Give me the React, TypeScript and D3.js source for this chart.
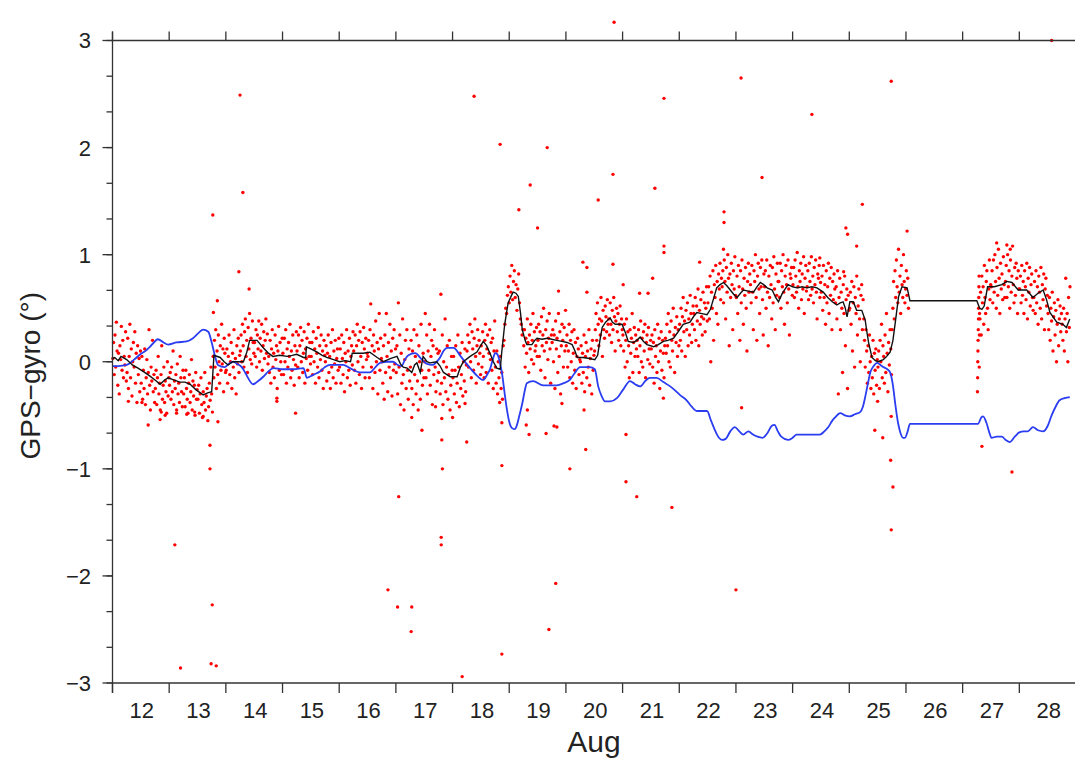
import React from "react";
import * as d3 from "d3";

// Time axis is day of August (fractional), y is GPS minus gyro heading in degrees.
const dayTicks = d3.range(12, 30);
const dayLabels = d3.range(12, 29);
const yMajor = [-3, -2, -1, 0, 1, 2, 3];
const yMinor = d3.range(-9, 10).map((k) => k / 3);

// Running mean of GPS−gyro [day, degrees]
const meanLine: [number, number][] = [
  [12.0, 0.03], [12.04, 0.04], [12.1, 0.01], [12.15, 0.05], [12.25, 0.02], [12.35, -0.03], [12.45, -0.06],
  [12.54, -0.09], [12.65, -0.13], [12.75, -0.17], [12.84, -0.21], [12.92, -0.17], [12.98, -0.15], [13.08, -0.17],
  [13.19, -0.19], [13.28, -0.19], [13.37, -0.21], [13.47, -0.26], [13.55, -0.29], [13.6, -0.31], [13.68, -0.29],
  [13.75, -0.28], [13.79, 0.06], [13.9, 0.04], [13.97, 0.0], [14.04, -0.03], [14.12, 0.0], [14.2, 0.0],
  [14.31, 0.0], [14.37, 0.09], [14.42, 0.2], [14.55, 0.2], [14.66, 0.13], [14.75, 0.08], [14.83, 0.05],
  [14.95, 0.06], [15.08, 0.05], [15.17, 0.06], [15.25, 0.07], [15.37, 0.04], [15.41, 0.04], [15.42, 0.14],
  [15.5, 0.12], [15.61, 0.09], [15.7, 0.06], [15.78, 0.04], [15.9, 0.02], [16.01, 0.0], [16.1, 0.01],
  [16.2, 0.0], [16.23, 0.08], [16.42, 0.08], [16.54, 0.09], [16.67, 0.04], [16.78, 0.0], [16.9, 0.03],
  [17.02, 0.05], [17.08, -0.02], [17.13, -0.05], [17.2, -0.06], [17.28, -0.1], [17.33, -0.03], [17.37, -0.01],
  [17.43, -0.1], [17.48, 0.05], [17.55, 0.0], [17.6, -0.01], [17.72, 0.0], [17.78, -0.04], [17.84, -0.1],
  [17.96, -0.14], [18.08, -0.14], [18.14, -0.05], [18.19, 0.0], [18.31, 0.05], [18.43, 0.09], [18.54, 0.19],
  [18.6, 0.15], [18.66, 0.08], [18.72, 0.0], [18.78, -0.06], [18.84, -0.07], [18.87, 0.1], [18.92, 0.35],
  [18.98, 0.55], [19.04, 0.62], [19.07, 0.65], [19.12, 0.64], [19.16, 0.61], [19.2, 0.45], [19.23, 0.3],
  [19.28, 0.2], [19.31, 0.16], [19.4, 0.16], [19.45, 0.2], [19.49, 0.22], [19.58, 0.21], [19.67, 0.22],
  [19.75, 0.21], [19.84, 0.2], [19.93, 0.19], [20.02, 0.18], [20.11, 0.16], [20.16, 0.1], [20.2, 0.04],
  [20.3, 0.04], [20.42, 0.03], [20.51, 0.02], [20.56, 0.06], [20.6, 0.2], [20.64, 0.32], [20.7, 0.37],
  [20.78, 0.41], [20.82, 0.37], [20.87, 0.35], [20.99, 0.35], [21.05, 0.27], [21.1, 0.19], [21.19, 0.18],
  [21.25, 0.2], [21.31, 0.23], [21.37, 0.19], [21.43, 0.16], [21.55, 0.14], [21.63, 0.16], [21.72, 0.19],
  [21.8, 0.2], [21.9, 0.22], [21.98, 0.28], [22.07, 0.35], [22.19, 0.37], [22.25, 0.42], [22.31, 0.46],
  [22.4, 0.45], [22.49, 0.44], [22.55, 0.49], [22.6, 0.58], [22.66, 0.69], [22.72, 0.72], [22.78, 0.74],
  [22.84, 0.71], [22.9, 0.67], [22.96, 0.63], [23.02, 0.6], [23.08, 0.64], [23.13, 0.67], [23.22, 0.66],
  [23.31, 0.65], [23.37, 0.7], [23.43, 0.74], [23.49, 0.72], [23.55, 0.69], [23.64, 0.67], [23.7, 0.6],
  [23.75, 0.56], [23.82, 0.64], [23.92, 0.72], [24.0, 0.7], [24.08, 0.69], [24.17, 0.7], [24.25, 0.69],
  [24.34, 0.7], [24.43, 0.69], [24.54, 0.65], [24.62, 0.6], [24.7, 0.56], [24.78, 0.53], [24.84, 0.55],
  [24.89, 0.56], [24.93, 0.5], [24.96, 0.42], [24.99, 0.5], [25.01, 0.56], [25.07, 0.56], [25.13, 0.48],
  [25.22, 0.48], [25.28, 0.39], [25.31, 0.28], [25.34, 0.18], [25.4, 0.04], [25.46, 0.01], [25.51, 0.0],
  [25.6, 0.02], [25.66, 0.05], [25.72, 0.09], [25.77, 0.2], [25.81, 0.36], [25.87, 0.61], [25.93, 0.7],
  [26.02, 0.69], [26.05, 0.62], [26.07, 0.57], [27.25, 0.57], [27.3, 0.5], [27.34, 0.49], [27.38, 0.52],
  [27.44, 0.7], [27.56, 0.7], [27.69, 0.72], [27.78, 0.75], [27.87, 0.74], [27.98, 0.67], [28.13, 0.67],
  [28.24, 0.6], [28.33, 0.64], [28.42, 0.67], [28.48, 0.58], [28.54, 0.46], [28.66, 0.37], [28.77, 0.35],
  [28.83, 0.32], [28.89, 0.4],
];

// Gyro correction term [day, degrees]
const gyroLine: [number, number][] = [
  [12.0, -0.04], [12.1, -0.04], [12.25, -0.03], [12.38, 0.02], [12.49, 0.07], [12.58, 0.1], [12.66, 0.14],
  [12.73, 0.18], [12.8, 0.21], [12.9, 0.18], [12.98, 0.16], [13.13, 0.18], [13.31, 0.19], [13.42, 0.22],
  [13.52, 0.27], [13.6, 0.3], [13.69, 0.28], [13.75, 0.18], [13.81, 0.05], [13.86, -0.03], [13.98, -0.05],
  [14.05, -0.02], [14.13, 0.0], [14.2, -0.02], [14.28, -0.05], [14.34, -0.1], [14.39, -0.15], [14.48, -0.21],
  [14.57, -0.18], [14.66, -0.14], [14.75, -0.09], [14.84, -0.06], [15.0, -0.07], [15.2, -0.07], [15.37, -0.06],
  [15.43, -0.15], [15.55, -0.12], [15.66, -0.09], [15.75, -0.05], [15.84, -0.03], [16.07, -0.03], [16.19, -0.06],
  [16.37, -0.1], [16.54, -0.1], [16.64, -0.05], [16.72, -0.01], [16.85, 0.0], [16.95, 0.0], [17.03, -0.03],
  [17.1, -0.04], [17.16, 0.02], [17.22, 0.06], [17.34, 0.08], [17.46, 0.02], [17.55, -0.02], [17.64, -0.03],
  [17.72, 0.0], [17.78, 0.04], [17.84, 0.1], [17.9, 0.13], [18.02, 0.13], [18.13, 0.06], [18.22, 0.0],
  [18.31, -0.06], [18.43, -0.13], [18.54, -0.17], [18.6, -0.13], [18.66, -0.07], [18.72, 0.04], [18.75, 0.08],
  [18.79, 0.07], [18.84, -0.02], [18.87, -0.1], [18.92, -0.3], [18.96, -0.45], [19.0, -0.56], [19.05, -0.62],
  [19.1, -0.63], [19.13, -0.6], [19.18, -0.5], [19.23, -0.39], [19.27, -0.28], [19.31, -0.2], [19.42, -0.18],
  [19.6, -0.22], [19.84, -0.22], [19.96, -0.2], [20.07, -0.17], [20.15, -0.11], [20.25, -0.05], [20.42, -0.05],
  [20.51, -0.07], [20.57, -0.23], [20.63, -0.32], [20.69, -0.37], [20.78, -0.37], [20.9, -0.34], [21.01, -0.26],
  [21.13, -0.18], [21.22, -0.21], [21.31, -0.23], [21.4, -0.18], [21.48, -0.15], [21.6, -0.15], [21.72, -0.19],
  [21.84, -0.23], [21.93, -0.27], [22.01, -0.31], [22.13, -0.36], [22.22, -0.42], [22.31, -0.46], [22.49, -0.46],
  [22.56, -0.55], [22.63, -0.64], [22.7, -0.71], [22.75, -0.73], [22.82, -0.72], [22.9, -0.65], [22.98, -0.61],
  [23.06, -0.65], [23.13, -0.68], [23.22, -0.65], [23.3, -0.68], [23.38, -0.7], [23.47, -0.71], [23.55, -0.67],
  [23.63, -0.6], [23.68, -0.59], [23.74, -0.65], [23.8, -0.7], [23.92, -0.73], [24.0, -0.71], [24.07, -0.68],
  [24.25, -0.68], [24.48, -0.68], [24.56, -0.65], [24.63, -0.61], [24.7, -0.55], [24.75, -0.52], [24.84, -0.48],
  [24.92, -0.5], [25.01, -0.51], [25.1, -0.49], [25.19, -0.47], [25.24, -0.42], [25.28, -0.33], [25.33, -0.2],
  [25.37, -0.1], [25.43, -0.04], [25.49, -0.01], [25.55, -0.03], [25.6, -0.05], [25.67, -0.07], [25.72, -0.1],
  [25.77, -0.22], [25.81, -0.39], [25.86, -0.57], [25.9, -0.66], [25.95, -0.71], [25.98, -0.71], [26.03, -0.65],
  [26.07, -0.58], [27.27, -0.58], [27.33, -0.52], [27.36, -0.51], [27.42, -0.57], [27.47, -0.66], [27.51, -0.71],
  [27.6, -0.7], [27.69, -0.7], [27.76, -0.73], [27.83, -0.75], [27.92, -0.7], [28.0, -0.66], [28.08, -0.65],
  [28.15, -0.65], [28.24, -0.61], [28.33, -0.64], [28.42, -0.65], [28.5, -0.6], [28.57, -0.5], [28.64, -0.42],
  [28.71, -0.36], [28.8, -0.34], [28.89, -0.33],
];

// Individual GPS−gyro samples: [start day, end day, values in hundredths of a degree, evenly spaced in time]
const sampleBlocks: [number, number, string][] = [
  [12.0, 12.25, "3 18 -12 25 -5 37 10 -22 8 -30 15 2 33 -8 20 -15 5 -3 28 -18"],
  [12.25, 12.5, "-10 22 -25 5 35 -15 12 -32 0 18 -5 28 -20 8 -38 15 -12 3 -28 10"],
  [12.5, 12.75, "-20 5 -35 -8 -25 12 -40 -15 2 -30 -10 30 -22 -45 -5 -18 20 -28 -12 -38"],
  [12.75, 13.0, "-25 -8 -40 -15 5 -30 -20 -45 -12 15 -35 -22 -5 -38 -18 -28 -48 0 -32 -15"],
  [13.0, 13.25, "-22 -10 -35 -5 -28 10 -40 -18 -25 -12 -45 -2 -30 -20 -38 5 -15 -28 -42 -8"],
  [13.25, 13.5, "-30 -15 -42 -8 -25 -35 -48 -20 -12 -38 -28 2 -45 -18 -32 -22 -50 -10 -35 -26"],
  [13.5, 13.77, "-35 -22 -48 -30 -15 -40 -52 -28 -38 -10 -45 -32 -25 -55 -42 -20 -36 -5 -30 -47"],
  [13.77, 14.0, "5 -15 20 -5 30 -25 10 -12 25 0 -20 15 -8 35 -2 12 -28 22 8 -10"],
  [14.0, 14.25, "-8 12 -20 5 25 -12 0 18 -25 8 -5 30 -15 3 -30 15 -2 22 -10 6"],
  [14.25, 14.5, "10 25 0 35 15 -5 28 40 5 20 -10 32 12 45 2 22 -2 38 18 8"],
  [14.5, 14.75, "18 5 30 -5 25 12 38 0 22 10 35 -8 15 28 3 20 40 8 26 -2"],
  [14.75, 15.0, "5 -10 20 -20 12 30 -5 8 -15 25 2 15 -25 10 33 -8 18 0 -12 22"],
  [15.0, 15.25, "8 -12 22 0 30 -20 12 -5 18 5 35 -15 10 -8 25 2 -22 15 -3 28"],
  [15.25, 15.5, "10 -5 25 -15 15 32 0 20 -10 8 28 -20 12 3 22 -8 35 5 18 -2"],
  [15.5, 15.75, "5 18 -12 28 0 12 -20 22 8 -5 32 -15 15 2 25 -8 10 -25 20 6"],
  [15.75, 16.0, "0 15 -18 8 25 -10 5 -25 18 -5 30 -15 10 -2 20 -20 3 12 -8 22"],
  [16.0, 16.25, "-5 12 -20 25 3 -12 18 -28 8 0 30 -15 10 -8 22 -22 5 15 -3 28"],
  [16.25, 16.5, "10 -8 25 -20 15 35 0 20 -12 28 5 -25 18 -5 32 12 -15 22 2 8"],
  [16.5, 16.75, "5 20 -15 30 54 -5 15 -25 25 10 -10 38 0 18 -30 12 45 -8 22 3"],
  [16.75, 17.0, "0 -20 15 -35 25 -10 45 5 -28 18 -5 35 -15 10 -32 22 -8 30 -2 12"],
  [17.0, 17.25, "-10 15 -30 55 -5 25 -40 8 -20 40 -12 -45 2 20 -25 30 -8 -35 12 -18"],
  [17.25, 17.5, "-5 20 -25 10 -40 30 -12 5 -30 25 -18 -45 15 0 -35 35 -8 -22 8 -15"],
  [17.5, 17.75, "0 45 -15 25 -30 10 -8 35 -22 5 20 -40 15 -12 30 -5 -28 12 -18 8"],
  [17.75, 18.0, "-10 10 -30 63 -20 25 -40 0 -15 40 -28 -5 15 -35 -12 20 -45 -22 5 -8"],
  [18.0, 18.25, "-15 5 -30 -8 15 -38 -20 25 -5 -42 8 -25 -12 18 -32 0 -18 12 -28 -3"],
  [18.25, 18.5, "10 25 -5 18 35 0 -15 28 12 -8 22 40 5 -20 15 30 -2 20 8 -12"],
  [18.5, 18.75, "15 -5 28 5 -15 20 35 -10 12 25 -20 8 30 2 18 -8 22 -25 10 38"],
  [18.75, 18.9, "-5 -20 10 -30 0 -15 -38 5 -25 -10 -35 15"],
  [18.9, 19.25, "20 35 50 45 62 70 55 80 65 90 58 75 85 60 72 48 68 82 55 40 35 25 30"],
  [19.25, 19.5, "15 30 -5 22 8 40 18 -10 25 12 35 2 20 45 -2 28 10 15 32 5"],
  [19.5, 19.75, "20 35 5 28 -8 42 15 25 50 10 -15 30 18 38 2 22 45 12 -20 25"],
  [19.75, 20.0, "18 30 0 25 -25 38 12 22 -10 45 5 28 -30 15 35 20 -5 32 10 48"],
  [20.0, 20.25, "15 25 -5 10 35 -15 20 0 28 -20 8 30 -8 18 -25 5 22 12 -12 2"],
  [20.25, 20.5, "0 15 -20 8 -10 25 -28 5 18 -15 10 -5 30 -22 3 12 -30 20 -8 6"],
  [20.5, 20.75, "10 30 45 20 55 35 15 40 25 60 38 5 48 30 22 52 42 28 58 35"],
  [20.75, 21.0, "40 25 55 35 18 48 30 60 42 10 38 50 28 45 20 35 52 15 40 30"],
  [21.0, 21.25, "25 10 35 -5 20 40 0 28 15 -15 30 8 22 45 -10 18 32 5 25 12"],
  [21.25, 21.5, "20 5 30 -10 15 38 0 22 -5 28 10 35 -15 18 25 2 32 12 -2 20"],
  [21.5, 21.75, "12 25 -5 18 -20 30 5 15 -10 35 0 22 -25 10 28 -8 20 8 -15 15"],
  [21.75, 22.0, "22 8 35 15 45 0 28 -5 38 20 10 50 25 -10 32 18 42 5 30 15"],
  [22.0, 22.25, "35 20 50 10 42 60 28 38 5 48 30 55 15 40 25 62 45 18 35 52"],
  [22.25, 22.5, "45 30 60 20 52 38 68 15 48 35 58 42 25 65 40 55 28 50 70 38"],
  [22.5, 22.75, "55 70 40 80 0 65 50 85 20 72 60 90 45 75 35 82 68 92 58 78"],
  [22.75, 23.0, "70 85 55 95 75 40 88 65 100 78 15 82 60 92 72 30 85 68 98 62"],
  [23.0, 23.25, "60 80 45 90 70 20 85 55 95 68 35 78 62 88 50 10 75 92 65 82"],
  [23.25, 23.5, "72 55 90 65 30 85 75 100 60 20 80 92 68 45 88 70 95 58 25 82"],
  [23.5, 23.75, "70 85 50 95 65 15 80 60 90 72 40 88 55 98 68 30 82 62 92 75"],
  [23.75, 24.0, "75 60 92 50 85 70 100 65 35 80 90 72 55 95 68 25 82 78 88 62"],
  [24.0, 24.25, "72 88 60 95 80 65 102 70 50 85 75 92 58 82 68 98 45 78 90 66"],
  [24.25, 24.5, "70 85 58 92 75 62 98 68 80 55 88 72 95 65 40 82 78 90 60 74"],
  [24.5, 24.75, "65 80 48 90 60 72 35 85 55 70 92 45 78 62 88 30 75 58 82 68"],
  [24.75, 25.0, "55 70 40 85 -30 60 78 30 65 50 -10 72 45 80 15 58 68 -25 62 48"],
  [25.0, 25.25, "50 65 35 75 10 55 70 -5 60 45 80 25 52 68 40 0 62 72 30 58"],
  [25.25, 25.5, "40 20 -5 30 10 -20 15 -10 25 0 -25 5 -15 20 -30 8 -8 12 -22 2"],
  [25.5, 25.75, "-5 10 -25 20 0 35 -15 15 5 -20 25 -10 45 8 -28 18 -3 30 12 -12"],
  [25.75, 26.05, "30 50 75 40 85 60 95 70 55 105 65 80 45 90 72 60 100 75 55 68 85 62 78 50"],
  [27.26, 27.3, "-28 -15 0 10 20 30 40 50 60 70 80 -5 25 45"],
  [27.3, 27.5, "40 65 25 80 55 70 35 90 60 45 75 85 50 30 68 95 58 72"],
  [27.5, 27.75, "70 85 55 95 65 100 75 50 88 62 105 78 45 92 68 82 58 98 72 60"],
  [27.75, 28.0, "75 90 60 100 70 85 50 95 65 80 108 72 55 88 62 92 78 45 85 68"],
  [28.0, 28.25, "68 80 55 90 62 75 45 85 70 58 92 40 78 65 88 52 72 82 60 48"],
  [28.25, 28.5, "60 75 45 85 55 70 35 80 65 50 88 40 72 58 82 30 68 78 52 62"],
  [28.5, 28.75, "45 30 60 20 50 38 65 10 42 55 25 48 0 35 58 15 40 52 28 45"],
  [28.75, 28.9, "35 20 50 10 40 78 28 45 0 60 32 70"],
];

// Isolated samples far from the running mean [day, degrees]
const outliers: [number, number][] = [
  [13.77, 1.37], [14.25, 2.49], [14.3, 1.58], [14.23, 0.84], [14.41, 0.68], [13.85, 0.57], [13.78, 0.46],
  [18.38, 2.48], [18.84, 2.03], [19.17, 1.42], [19.37, 1.65], [19.67, 2.0], [19.5, 1.25], [20.3, 0.93],
  [20.37, 0.88], [20.37, 0.65], [19.87, 0.66], [20.85, 3.17], [20.83, 1.75], [20.57, 1.51], [20.83, 0.91],
  [21.01, 0.72], [21.53, 0.78], [21.45, 0.64], [21.3, 0.64], [21.73, 1.02], [21.73, 1.08], [22.36, 0.93],
  [21.57, 1.62], [21.73, 2.46], [23.09, 2.65], [23.46, 1.72], [22.79, 1.4], [22.79, 1.3], [22.78, 1.05],
  [24.34, 2.31], [24.48, 0.97], [24.97, 1.19], [25.13, 1.08], [24.94, 1.25], [25.23, 1.47], [24.9, 0.84],
  [25.74, 2.62], [26.02, 1.22], [27.6, 1.11], [27.78, 1.09], [27.84, 1.05], [28.57, 3.0],
  [13.2, -2.86], [13.74, -2.82], [13.83, -2.84], [13.1, -1.71], [13.76, -2.27], [13.72, -1.0], [13.72, -0.78],
  [13.86, -0.56], [12.28, -0.37], [12.63, -0.59], [12.84, -0.54], [12.93, -0.5], [12.86, -0.47], [13.13, -0.48],
  [13.31, -0.49], [13.45, -0.47], [13.6, -0.51], [12.52, -0.38], [14.9, -0.34], [14.9, -0.37], [15.23, -0.48],
  [16.86, -2.13], [17.03, -2.29], [17.28, -2.29], [17.27, -2.52], [17.05, -1.26], [17.8, -1.64], [17.8, -1.71],
  [17.82, -1.0], [17.28, -0.52], [17.46, -0.64], [17.81, -0.53], [17.81, -0.73], [18.0, -0.52], [18.25, -0.75],
  [18.22, -0.39], [17.7, -0.42], [18.17, -2.94], [18.87, -2.73], [18.87, -0.57], [18.87, -0.97],
  [19.32, -0.45], [19.3, -0.59], [19.35, -0.68], [19.65, -0.67], [19.79, -0.6], [19.84, -0.61], [19.93, -0.39],
  [20.32, -0.45], [20.35, -0.82], [19.7, -2.5], [19.82, -2.07], [20.07, -1.0], [21.06, -1.12], [21.06, -0.68],
  [21.25, -1.26], [21.72, -0.34], [21.87, -1.36], [23.1, -0.43], [23.0, -2.13], [25.5, -0.37], [25.45, -0.64],
  [25.59, -0.71], [25.73, -0.92], [25.74, -0.51], [25.74, -1.57], [25.77, -1.17], [27.34, -0.79], [27.87, -1.03],
];

const W = 1075;
const H = 762;
const left = 112.5;
const top = 40.5;
const bottom = 683;

const x = d3.scaleLinear().domain([12, 29]).range([left, 1076]);
const y = d3.scaleLinear().domain([-3, 3]).range([bottom, top]);

const samples = sampleBlocks.flatMap(([a, b, s]) => {
  const vals = s.trim().split(/\s+/).map(Number);
  return vals.map((v, i) => [a + ((i + 0.5) * (b - a)) / vals.length, v / 100] as [number, number]);
});
const points = samples.concat(outliers);

const meanPath = d3
  .line<[number, number]>()
  .x((d) => x(d[0]))
  .y((d) => y(d[1]))(meanLine) as string;

const gyroPath = d3
  .line<[number, number]>()
  .x((d) => x(d[0]))
  .y((d) => y(d[1]))
  .curve(d3.curveMonotoneX)(gyroLine) as string;

const font = "'Liberation Sans', Arial, sans-serif";
const axisColor = "#333";

const fmtY = (v: number) => (v < 0 ? "\u2212" + Math.abs(v) : String(v));

export default function App() {
  return (
    <svg
      width={W}
      height={H}
      viewBox={`0 0 ${W} ${H}`}
      style={{ position: "absolute", left: 0, top: 0, background: "#fff" }}
    >
      <rect x={0} y={0} width={W} height={H} fill="#fff" />

      {/* samples */}
      <g fill="#ff0000">
        {points.map((p, i) => (
          <circle key={i} cx={x(p[0])} cy={y(p[1])} r={1.7} />
        ))}
      </g>

      {/* gyro correction */}
      <path d={gyroPath} fill="none" stroke="#2a3df0" strokeWidth={1.8} />
      {/* running mean */}
      <path d={meanPath} fill="none" stroke="#111" strokeWidth={1.4} />

      {/* frame */}
      <g stroke={axisColor} strokeWidth={1.3} fill="none">
        <line x1={left} x2={W} y1={top} y2={top} />
        <line x1={left} x2={W} y1={bottom} y2={bottom} />
        <line x1={left} x2={left} y1={top - 9} y2={bottom + 10} />
        {dayTicks.map((d) => (
          <g key={d}>
            <line x1={x(d)} x2={x(d)} y1={top} y2={top - 9} />
            <line x1={x(d)} x2={x(d)} y1={bottom} y2={bottom + 10} />
          </g>
        ))}
        {yMinor.map((v, i) => (
          <line key={i} x1={left - 6} x2={left} y1={y(v)} y2={y(v)} />
        ))}
        {yMajor.map((v) => (
          <line key={v} x1={left - 10} x2={left} y1={y(v)} y2={y(v)} />
        ))}
      </g>

      {/* tick labels */}
      <g fontFamily={font} fontSize={22} fill="#222">
        {yMajor.map((v) => (
          <text key={v} x={91} y={y(v)} dy="0.36em" textAnchor="end">
            {fmtY(v)}
          </text>
        ))}
        {dayLabels.map((d) => (
          <text key={d} x={x(d + 0.5) + 1} y={718} textAnchor="middle">
            {d}
          </text>
        ))}
      </g>

      {/* axis titles */}
      <text x={594} y={752} textAnchor="middle" fontFamily={font} fontSize={30} fill="#222">
        Aug
      </text>
      <text
        transform={`translate(40, ${y(0) + 14}) rotate(-90)`}
        textAnchor="middle"
        fontFamily={font}
        fontSize={28}
        fill="#222"
      >
        GPS{"\u2212"}gyro (°)
      </text>
    </svg>
  );
}
